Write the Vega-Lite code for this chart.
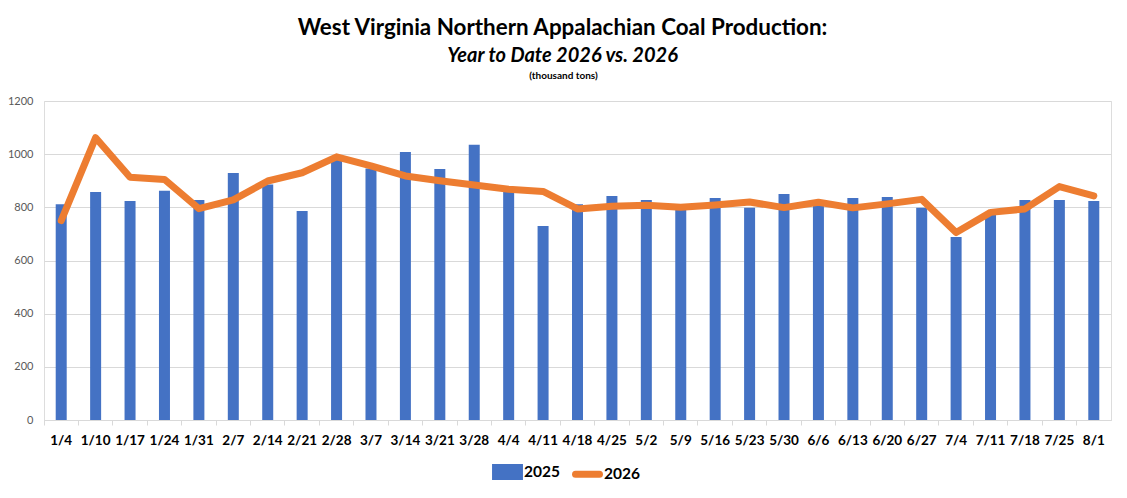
{
  "$schema": "https://vega.github.io/schema/vega-lite/v6.json",
  "autosize": "none",
  "width": 1067,
  "height": 319,
  "padding": {"left": 44, "top": 101, "right": 16, "bottom": 78},
  "background": "white",
  "title": {
    "text": "West Virginia Northern Appalachian Coal Production:",
    "subtitle": "Year to Date 2026 vs. 2026",
    "anchor": "middle",
    "dx": -15,
    "offset": 4,
    "font": "Lato",
    "fontSize": 22.4,
    "fontWeight": "bold",
    "color": "black",
    "subtitleFont": "Lato",
    "subtitleFontSize": 20,
    "subtitleFontWeight": "bold",
    "subtitleFontStyle": "italic",
    "subtitleColor": "black",
    "subtitlePadding": 7
  },
  "data": {
    "values": [
      {"week": "1/4", "y2025": 812, "y2026": 750},
      {"week": "1/10", "y2025": 858, "y2026": 1062},
      {"week": "1/17", "y2025": 824, "y2026": 913},
      {"week": "1/24", "y2025": 862, "y2026": 905},
      {"week": "1/31", "y2025": 828, "y2026": 795},
      {"week": "2/7", "y2025": 929, "y2026": 828},
      {"week": "2/14", "y2025": 886, "y2026": 899},
      {"week": "2/21", "y2025": 786, "y2026": 930},
      {"week": "2/28", "y2025": 978, "y2026": 990},
      {"week": "3/7", "y2025": 946, "y2026": 956},
      {"week": "3/14", "y2025": 1008, "y2026": 918},
      {"week": "3/21", "y2025": 944, "y2026": 900},
      {"week": "3/28", "y2025": 1035, "y2026": 884},
      {"week": "4/4", "y2025": 858, "y2026": 868},
      {"week": "4/11", "y2025": 730, "y2026": 860},
      {"week": "4/18", "y2025": 812, "y2026": 794},
      {"week": "4/25", "y2025": 843, "y2026": 804},
      {"week": "5/2", "y2025": 828, "y2026": 808},
      {"week": "5/9", "y2025": 797, "y2026": 800},
      {"week": "5/16", "y2025": 835, "y2026": 809},
      {"week": "5/23", "y2025": 798, "y2026": 820},
      {"week": "5/30", "y2025": 850, "y2026": 799},
      {"week": "6/6", "y2025": 810, "y2026": 819},
      {"week": "6/13", "y2025": 835, "y2026": 798},
      {"week": "6/20", "y2025": 839, "y2026": 813},
      {"week": "6/27", "y2025": 798, "y2026": 830},
      {"week": "7/4", "y2025": 688, "y2026": 705},
      {"week": "7/11", "y2025": 778, "y2026": 781},
      {"week": "7/18", "y2025": 828, "y2026": 794},
      {"week": "7/25", "y2025": 828, "y2026": 878},
      {"week": "8/1", "y2025": 824, "y2026": 843}
    ]
  },
  "encoding": {
    "x": {
      "field": "week",
      "type": "ordinal",
      "sort": null,
      "scale": {"paddingInner": 0, "paddingOuter": 0},
      "axis": {
        "title": null,
        "labelAngle": 0,
        "labelFont": "Lato",
        "labelFontSize": 13.5,
        "labelFontWeight": "bold",
        "labelColor": "black",
        "labelPadding": 8,
        "domainColor": "#d9d9d9",
        "tickColor": "#d9d9d9",
        "tickSize": 5,
        "bandPosition": 0,
        "labelBound": false,
        "labelOverlap": false,
        "grid": false
      }
    }
  },
  "layer": [
    {
      "mark": {"type": "bar", "width": 11, "color": "#4472C4"},
      "encoding": {
        "y": {
          "field": "y2025",
          "type": "quantitative",
          "scale": {"domain": [0, 1200]},
          "axis": {
            "title": "(thousand tons)",
            "titleAngle": 0,
            "titleFont": "Lato",
            "titleFontSize": 10,
            "titleFontWeight": "bold",
            "titleColor": "black",
            "titleX": 519,
            "titleY": -21,
            "titleAlign": "center",
            "values": [0, 200, 400, 600, 800, 1000, 1200],
            "format": "d",
            "labelFont": "Lato",
            "labelFontSize": 11,
            "labelColor": "#595959",
            "labelPadding": 11,
            "domain": false,
            "ticks": false,
            "gridColor": "#d9d9d9"
          }
        },
        "color": {
          "datum": "2025",
          "type": "nominal",
          "scale": {"domain": ["2025", "2026"], "range": ["#4472C4", "#ED7D31"]},
          "legend": {
            "title": null,
            "orient": "none",
            "legendX": 447,
            "legendY": 354,
            "padding": 0,
            "direction": "horizontal",
            "labelFont": "Lato",
            "labelFontSize": 15.5,
            "labelFontWeight": "bold",
            "labelColor": "black",
            "labelOffset": 0,
            "columnPadding": 1,
            "symbolSize": 676,
            "symbolStrokeWidth": 7,
            "encode": {
              "symbols": {
                "update": {
                  "shape": {"signal": "datum.label === '2025' ? 'M-0.92,-0.35H0.92V0.35H-0.92Z' : 'M-0.92,0H0.92'"},
                  "strokeWidth": {"value": 7},
                  "strokeCap": {"value": "round"},
                  "stroke": {"signal": "datum.label === '2025' ? 'transparent' : '#ED7D31'"},
                  "fill": {"signal": "datum.label === '2025' ? '#4472C4' : 'transparent'"},
                  "opacity": {"value": 1}
                }
              }
            }
          }
        }
      }
    },
    {
      "mark": {"type": "line", "strokeWidth": 7, "strokeCap": "round", "strokeJoin": "round"},
      "encoding": {
        "y": {"field": "y2026", "type": "quantitative"},
        "color": {"datum": "2026", "type": "nominal"}
      }
    }
  ]
}
